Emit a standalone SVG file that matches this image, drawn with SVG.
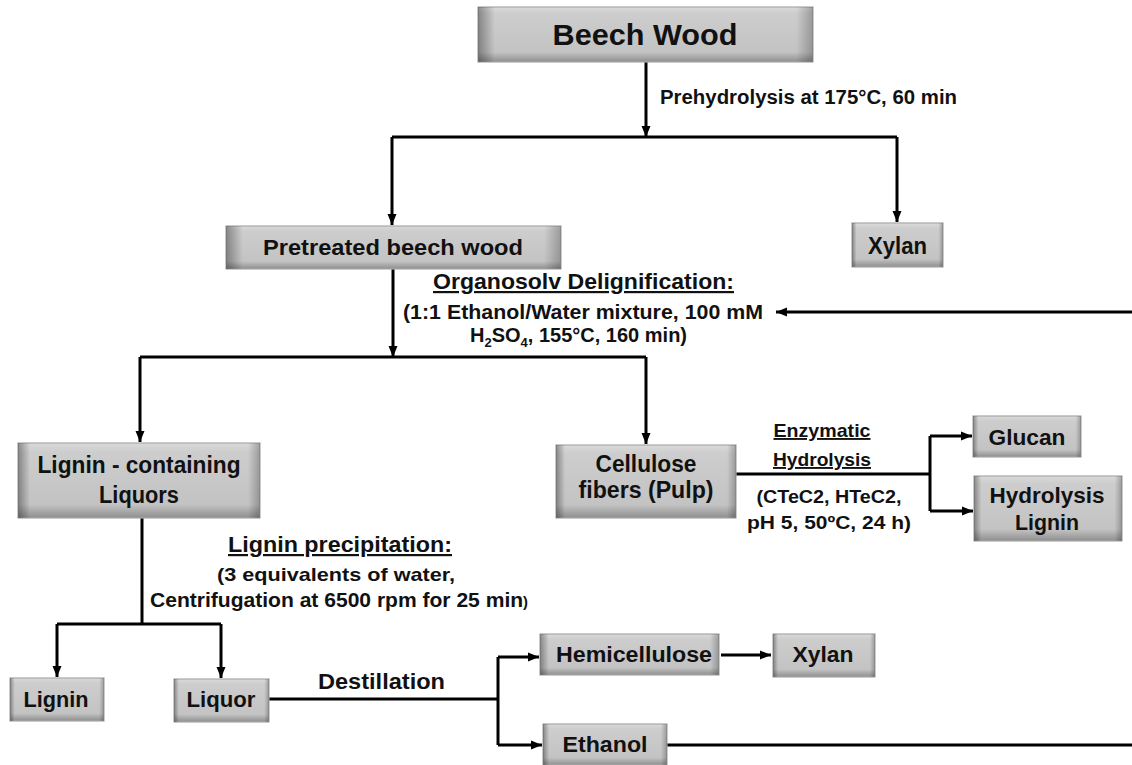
<svg xmlns="http://www.w3.org/2000/svg" width="1132" height="765" viewBox="0 0 1132 765">
<style>
.box{stroke:#a8a8a8;stroke-width:1.2}
.t{font-family:"Liberation Sans",Arial,sans-serif;font-weight:bold;fill:#111}
.c{text-anchor:middle}
.ln{fill:none;stroke:#000;stroke-width:3}
.u{text-decoration:underline}
</style>
<defs>
<linearGradient id="gv" x1="0" y1="0" x2="0" y2="1">
<stop offset="0" stop-color="#dadada"/>
<stop offset="0.12" stop-color="#cdcdcd"/>
<stop offset="0.82" stop-color="#c3c3c3"/>
<stop offset="1" stop-color="#8e8e8e"/>
</linearGradient>
<linearGradient id="gh" x1="0" y1="0" x2="1" y2="0">
<stop offset="0" stop-color="#000" stop-opacity="0.35"/>
<stop offset="0.05" stop-color="#000" stop-opacity="0"/>
<stop offset="0.95" stop-color="#000" stop-opacity="0"/>
<stop offset="1" stop-color="#000" stop-opacity="0.25"/>
</linearGradient>
<marker id="ah" markerUnits="userSpaceOnUse" markerWidth="11" markerHeight="10" refX="11" refY="5" orient="auto">
<path d="M0,0.5 L11,5 L0,9.5 z" fill="#000"/>
</marker>
</defs>

<g id="connectors">
<path class="ln" d="M646,62 V137" marker-end="url(#ah)"/>
<path class="ln" d="M392,137 H897"/>
<path class="ln" d="M392,137 V225" marker-end="url(#ah)"/>
<path class="ln" d="M897,137 V222" marker-end="url(#ah)"/>
<path class="ln" d="M393,269 V357" marker-end="url(#ah)"/>
<path class="ln" d="M140,357 H646"/>
<path class="ln" d="M140,357 V442" marker-end="url(#ah)"/>
<path class="ln" d="M646,357 V444" marker-end="url(#ah)"/>
<path class="ln" d="M1132,312 H776" marker-end="url(#ah)"/>
<path class="ln" d="M736,474 H930"/>
<path class="ln" d="M930,436 V511"/>
<path class="ln" d="M930,436 H972" marker-end="url(#ah)"/>
<path class="ln" d="M930,511 H973" marker-end="url(#ah)"/>
<path class="ln" d="M142,518 V624"/>
<path class="ln" d="M57,624 H221"/>
<path class="ln" d="M57,624 V677" marker-end="url(#ah)"/>
<path class="ln" d="M221,624 V678" marker-end="url(#ah)"/>
<path class="ln" d="M269,699 H498"/>
<path class="ln" d="M498,657 V745"/>
<path class="ln" d="M498,657 H539" marker-end="url(#ah)"/>
<path class="ln" d="M498,745 H542" marker-end="url(#ah)"/>
<path class="ln" d="M721,655 H771" marker-end="url(#ah)"/>
<path class="ln" d="M667,745 H1132"/>
</g>

<g id="labels">
<text class="t" x="660" y="104" font-size="20" textLength="297" lengthAdjust="spacingAndGlyphs">Prehydrolysis at 175°C, 60 min</text>
<text class="t u" x="433" y="289" font-size="22" textLength="301" lengthAdjust="spacingAndGlyphs">Organosolv Delignification:</text>
<text class="t" x="403" y="319" font-size="20" textLength="360" lengthAdjust="spacingAndGlyphs">(1:1 Ethanol/Water mixture, 100 mM</text>
<text class="t" x="470" y="342" font-size="20">H<tspan font-size="13" dy="5">2</tspan><tspan dy="-5">SO</tspan><tspan font-size="13" dy="5">4</tspan><tspan dy="-5">, 155°C, 160 min)</tspan></text>
<text class="t u c" x="822" y="437" font-size="19" textLength="97" lengthAdjust="spacingAndGlyphs">Enzymatic</text>
<text class="t u c" x="822" y="466" font-size="19" textLength="98" lengthAdjust="spacingAndGlyphs">Hydrolysis</text>
<text class="t c" x="829" y="503" font-size="19" textLength="145" lengthAdjust="spacingAndGlyphs">(CTeC2, HTeC2,</text>
<text class="t c" x="829" y="529" font-size="19" textLength="164" lengthAdjust="spacingAndGlyphs">pH 5, 50ºC, 24 h)</text>
<text class="t u" x="228" y="552" font-size="22" textLength="224" lengthAdjust="spacingAndGlyphs">Lignin precipitation:</text>
<text class="t" x="217" y="581" font-size="19" textLength="238" lengthAdjust="spacingAndGlyphs">(3 equivalents of water,</text>
<text class="t" x="150" y="607" font-size="20" textLength="378" lengthAdjust="spacingAndGlyphs">Centrifugation at 6500 rpm for 25 min<tspan font-size="14">)</tspan></text>
<text class="t" x="318" y="689" font-size="22" textLength="127" lengthAdjust="spacingAndGlyphs">Destillation</text>
</g>

<g id="n-beech">
<rect class="box" x="478" y="7" width="335" height="55" fill="url(#gv)"/>
<rect x="478" y="7" width="335" height="55" fill="url(#gh)"/>
<text class="t c" x="645" y="45" font-size="30" textLength="185" lengthAdjust="spacingAndGlyphs">Beech Wood</text>
</g>
<g id="n-pretreated">
<rect class="box" x="226" y="226" width="335" height="43" fill="url(#gv)"/>
<rect x="226" y="226" width="335" height="43" fill="url(#gh)"/>
<text class="t c" x="393" y="255" font-size="22" textLength="260" lengthAdjust="spacingAndGlyphs">Pretreated beech wood</text>
</g>
<g id="n-xylan1">
<rect class="box" x="852" y="223" width="91" height="44" fill="url(#gv)"/>
<rect x="852" y="223" width="91" height="44" fill="url(#gh)"/>
<text class="t c" x="897.5" y="254" font-size="23" textLength="59" lengthAdjust="spacingAndGlyphs">Xylan</text>
</g>
<g id="n-liquors">
<rect class="box" x="18" y="443" width="242" height="75" fill="url(#gv)"/>
<rect x="18" y="443" width="242" height="75" fill="url(#gh)"/>
<text class="t c" x="139" y="473" font-size="23" textLength="203" lengthAdjust="spacingAndGlyphs">Lignin - containing</text>
<text class="t c" x="139" y="503" font-size="23" textLength="80" lengthAdjust="spacingAndGlyphs">Liquors</text>
</g>
<g id="n-cellulose">
<rect class="box" x="556" y="445" width="180" height="73" fill="url(#gv)"/>
<rect x="556" y="445" width="180" height="73" fill="url(#gh)"/>
<text class="t c" x="646" y="472" font-size="23" textLength="101" lengthAdjust="spacingAndGlyphs">Cellulose</text>
<text class="t c" x="646" y="498" font-size="23" textLength="135" lengthAdjust="spacingAndGlyphs">fibers (Pulp)</text>
</g>
<g id="n-glucan">
<rect class="box" x="973" y="416" width="108" height="41" fill="url(#gv)"/>
<rect x="973" y="416" width="108" height="41" fill="url(#gh)"/>
<text class="t c" x="1027" y="445" font-size="22" textLength="77" lengthAdjust="spacingAndGlyphs">Glucan</text>
</g>
<g id="n-hlignin">
<rect class="box" x="974" y="476" width="148" height="65" fill="url(#gv)"/>
<rect x="974" y="476" width="148" height="65" fill="url(#gh)"/>
<text class="t c" x="1047" y="503" font-size="22" textLength="115" lengthAdjust="spacingAndGlyphs">Hydrolysis</text>
<text class="t c" x="1047" y="530" font-size="22" textLength="64" lengthAdjust="spacingAndGlyphs">Lignin</text>
</g>
<g id="n-lignin">
<rect class="box" x="10" y="678" width="94" height="43" fill="url(#gv)"/>
<rect x="10" y="678" width="94" height="43" fill="url(#gh)"/>
<text class="t c" x="56" y="707" font-size="22" textLength="65" lengthAdjust="spacingAndGlyphs">Lignin</text>
</g>
<g id="n-liquor">
<rect class="box" x="174" y="679" width="95" height="43" fill="url(#gv)"/>
<rect x="174" y="679" width="95" height="43" fill="url(#gh)"/>
<text class="t c" x="221" y="707" font-size="22" textLength="69" lengthAdjust="spacingAndGlyphs">Liquor</text>
</g>
<g id="n-hemi">
<rect class="box" x="540" y="634" width="179" height="41" fill="url(#gv)"/>
<rect x="540" y="634" width="179" height="41" fill="url(#gh)"/>
<text class="t c" x="634" y="662" font-size="22" textLength="156" lengthAdjust="spacingAndGlyphs">Hemicellulose</text>
</g>
<g id="n-xylan2">
<rect class="box" x="773" y="634" width="102" height="43" fill="url(#gv)"/>
<rect x="773" y="634" width="102" height="43" fill="url(#gh)"/>
<text class="t c" x="823" y="662" font-size="22" textLength="61" lengthAdjust="spacingAndGlyphs">Xylan</text>
</g>
<g id="n-ethanol">
<rect class="box" x="543" y="724" width="124" height="41" fill="url(#gv)"/>
<rect x="543" y="724" width="124" height="41" fill="url(#gh)"/>
<text class="t c" x="605" y="752" font-size="22" textLength="85" lengthAdjust="spacingAndGlyphs">Ethanol</text>
</g>
</svg>
